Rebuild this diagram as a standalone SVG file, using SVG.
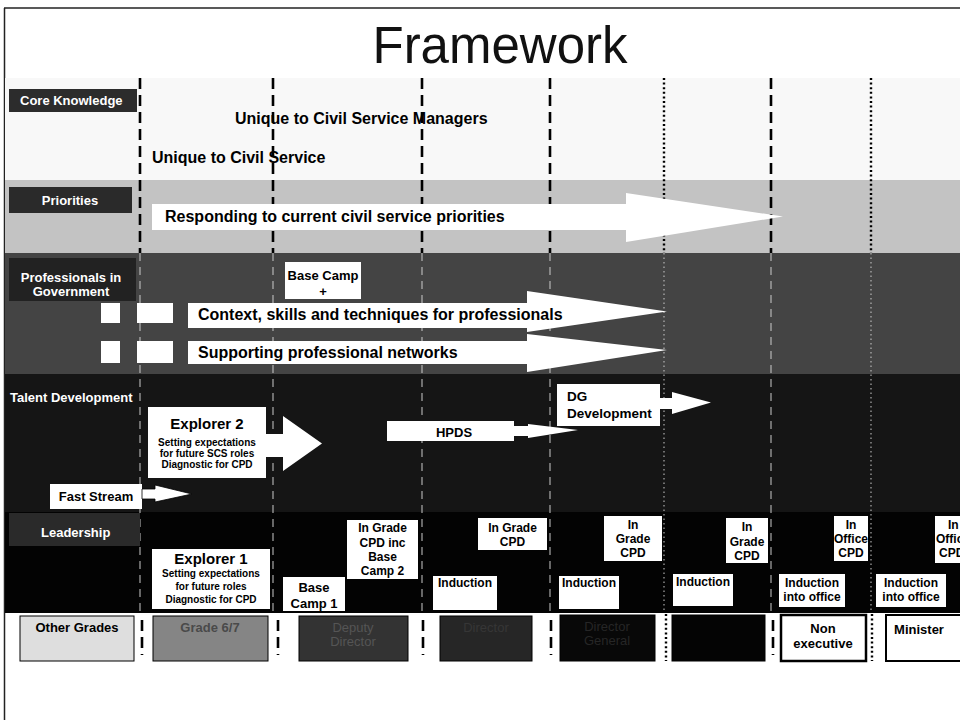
<svg xmlns="http://www.w3.org/2000/svg" width="960" height="724" viewBox="0 0 960 724">
  <style>
    text { font-family: "Liberation Sans", Arial, sans-serif; font-weight: bold; }
    .title { font-weight: normal; font-size: 51px; fill: #111; }
    .lbl { fill: #fff; font-size: 13px; }
    .band-t { fill: #000; font-size: 16px; }
    .bx { fill: #fff; }
    .bt { fill: #000; font-size: 12px; text-anchor: middle; }
    .bt13 { fill: #000; font-size: 13px; text-anchor: middle; }
    .sub { fill: #000; font-size: 10px; text-anchor: middle; }
    .arrow { fill: #fff; }
    .dash-d { stroke: #000; stroke-width: 2.6; stroke-dasharray: 11 6; fill: none; }
    .dot-d { stroke: #000; stroke-width: 2.4; stroke-dasharray: 2 2.6; fill: none; }
    .dash-l { stroke: #cfcfcf; stroke-width: 1.4; stroke-dasharray: 8 6; opacity: 0.7; fill: none; }
    .dot-l { stroke: #cfcfcf; stroke-width: 1.4; stroke-dasharray: 1.5 3; opacity: 0.7; fill: none; }
    .grade { stroke: #000; stroke-width: 1; }
    .gt { font-size: 13px; text-anchor: middle; }
  </style>

  <!-- page -->
  <rect x="0" y="0" width="960" height="724" fill="#fff"/>
  <line x1="4" y1="8" x2="960" y2="8" stroke="#222" stroke-width="1.5"/>
  <line x1="4.5" y1="8" x2="4.5" y2="720" stroke="#222" stroke-width="1.5"/>
  <text class="title" x="500" y="63" text-anchor="middle">Framework</text>

  <!-- horizontal bands -->
  <g id="bands">
    <rect x="5" y="78" width="955" height="102" fill="#f8f8f8"/>
    <rect x="5" y="180" width="955" height="73" fill="#c3c3c3"/>
    <rect x="5" y="253" width="955" height="121" fill="#444"/>
    <rect x="5" y="374" width="955" height="138" fill="#151515"/>
    <rect x="5" y="512" width="955" height="101" fill="#030303"/>
  </g>

  <!-- grid of grade columns -->
  <g id="connectors">
    <g id="grid-light-bands">
      <line class="dash-d" x1="140" y1="78" x2="140" y2="253"/>
      <line class="dash-d" x1="273" y1="78" x2="273" y2="253"/>
      <line class="dash-d" x1="422" y1="78" x2="422" y2="253"/>
      <line class="dash-d" x1="550" y1="78" x2="550" y2="253"/>
      <line class="dot-d" x1="664" y1="78" x2="664" y2="253"/>
      <line class="dash-d" x1="771" y1="78" x2="771" y2="253"/>
      <line class="dot-d" x1="871" y1="78" x2="871" y2="253"/>
    </g>
    <g id="grid-dark-bands">
      <line class="dash-l" x1="140" y1="253" x2="140" y2="612"/>
      <line class="dash-l" x1="273" y1="253" x2="273" y2="612"/>
      <line class="dash-l" x1="422" y1="253" x2="422" y2="612"/>
      <line class="dash-l" x1="550" y1="253" x2="550" y2="612"/>
      <line class="dot-l" x1="664" y1="253" x2="664" y2="612"/>
      <line class="dash-l" x1="771" y1="253" x2="771" y2="612"/>
      <line class="dot-l" x1="871" y1="253" x2="871" y2="612"/>
    </g>
    <g id="grid-grade-row">
      <line class="dash-d" x1="142" y1="620" x2="142" y2="655" stroke-dasharray="11 9"/>
      <line class="dash-d" x1="278" y1="620" x2="278" y2="655" stroke-dasharray="11 9"/>
      <line class="dash-d" x1="423" y1="620" x2="423" y2="655" stroke-dasharray="11 9"/>
      <line class="dash-d" x1="551" y1="620" x2="551" y2="655" stroke-dasharray="11 9"/>
      <line class="dot-d" x1="666" y1="614" x2="666" y2="661"/>
      <line class="dash-d" x1="773" y1="620" x2="773" y2="655" stroke-dasharray="11 9"/>
      <line class="dot-d" x1="872" y1="614" x2="872" y2="661"/>
    </g>
  </g>

  <!-- row labels -->
  <g id="label-core">
    <rect x="9" y="89" width="128" height="23" fill="#2c2c2c"/>
    <text class="lbl" x="20" y="105">Core Knowledge</text>
  </g>
  <g id="label-priorities">
    <rect x="9" y="187" width="123" height="26" fill="#2a2a2a"/>
    <text class="lbl" x="70" y="205" text-anchor="middle">Priorities</text>
  </g>
  <g id="label-professionals">
    <rect x="9" y="258" width="127" height="43" fill="#222"/>
    <text class="lbl" x="71" y="282" text-anchor="middle">Professionals in</text>
    <text class="lbl" x="71" y="296" text-anchor="middle">Government</text>
  </g>
  <g id="label-talent">
    <text class="lbl" x="10" y="402">Talent Development</text>
  </g>
  <g id="label-leadership">
    <rect x="9" y="513" width="131" height="33" fill="#2a2a2a"/>
    <text class="lbl" x="41" y="537">Leadership</text>
  </g>

  <!-- core knowledge -->
  <g id="core-managers">
    <text class="band-t" x="235" y="124">Unique to Civil Service Managers</text>
  </g>
  <g id="core-civil-service">
    <text class="band-t" x="152" y="163">Unique to Civil Service</text>
  </g>

  <!-- priorities -->
  <g id="priorities-arrow">
    <polygon class="arrow" points="152,204 626,204 626,193 783,216.5 626,242 626,230 152,230"/>
    <text class="band-t" x="165" y="222">Responding to current civil service priorities</text>
  </g>

  <!-- professionals in government -->
  <g id="base-camp">
    <rect class="bx" x="285" y="262" width="76" height="37"/>
    <text class="bt13" x="323" y="280">Base Camp</text>
    <text class="bt13" x="323" y="296">+</text>
  </g>
  <g id="prof-squares">
    <rect class="bx" x="101" y="303" width="19" height="20"/>
    <rect class="bx" x="137" y="303" width="36" height="20"/>
    <rect class="bx" x="101" y="341" width="19" height="22"/>
    <rect class="bx" x="137" y="341" width="36" height="22"/>
  </g>
  <g id="prof-context">
    <polygon class="arrow" points="188,303 527,303 527,291 667,311.5 527,332 527,328 188,328"/>
    <text class="band-t" x="198" y="320">Context, skills and techniques for professionals</text>
  </g>
  <g id="prof-networks">
    <polygon class="arrow" points="188,341 527,341 527,334 667,350 527,372 527,364 188,364"/>
    <text class="band-t" x="198" y="358">Supporting professional networks</text>
  </g>

  <!-- talent development -->
  <g id="explorer-2">
    <rect class="bx" x="148" y="407" width="118" height="71"/>
    <text class="bt" x="207" y="429" style="font-size:15px">Explorer 2</text>
    <text class="sub" x="207" y="446">Setting expectations</text>
    <text class="sub" x="207" y="457">for future SCS roles</text>
    <text class="sub" x="207" y="468">Diagnostic for CPD</text>
    <polygon class="arrow" points="266,434 283,434 283,416 322,443.5 283,471 283,457 266,457"/>
  </g>
  <g id="fast-stream">
    <rect class="bx" x="50" y="484" width="92" height="25"/>
    <text class="bt13" x="96" y="501">Fast Stream</text>
    <polygon class="arrow" stroke="#000" stroke-width="0.8" points="142,489 155,489 155,485 192,494 155,502 155,499 142,499"/>
  </g>
  <g id="hpds">
    <rect class="bx" x="387" y="421" width="127" height="20"/>
    <text class="bt13" x="454" y="437">HPDS</text>
    <polygon class="arrow" points="514,426 528,426 528,424 578,430 528,438 528,436 514,436"/>
  </g>
  <g id="dg-development">
    <rect class="bx" x="557" y="384" width="103" height="42"/>
    <text class="bt" x="567" y="401" style="font-size:13.5px;text-anchor:start">DG</text>
    <text class="bt" x="567" y="418" style="font-size:13.5px;text-anchor:start">Development</text>
    <polygon class="arrow" points="660,398 672,398 672,392 711,402.5 672,414 672,409 660,409"/>
  </g>

  <!-- leadership -->
  <g id="explorer-1">
    <rect class="bx" x="152" y="549" width="118" height="60"/>
    <text class="bt" x="211" y="564" style="font-size:15px">Explorer 1</text>
    <text class="sub" x="211" y="577">Setting expectations</text>
    <text class="sub" x="211" y="590">for future roles</text>
    <text class="sub" x="211" y="603">Diagnostic for CPD</text>
  </g>
  <g id="base-camp-1">
    <rect class="bx" x="283" y="577" width="62" height="34"/>
    <text class="bt13" x="314" y="592">Base</text>
    <text class="bt13" x="314" y="608">Camp 1</text>
  </g>
  <g id="in-grade-cpd-base-camp-2">
    <rect class="bx" x="347" y="520" width="71" height="59"/>
    <text class="bt" x="382.5" y="532">In Grade</text>
    <text class="bt" x="382.5" y="547">CPD inc</text>
    <text class="bt" x="382.5" y="561">Base</text>
    <text class="bt" x="382.5" y="575">Camp 2</text>
  </g>
  <g id="induction-1">
    <rect class="bx" x="433" y="576" width="64" height="34"/>
    <text class="bt" x="465" y="587">Induction</text>
  </g>
  <g id="in-grade-cpd-1">
    <rect class="bx" x="478" y="518" width="69" height="32"/>
    <text class="bt" x="512.5" y="532">In Grade</text>
    <text class="bt" x="512.5" y="546">CPD</text>
  </g>
  <g id="induction-2">
    <rect class="bx" x="559" y="576" width="60" height="33"/>
    <text class="bt" x="589" y="587">Induction</text>
  </g>
  <g id="in-grade-cpd-2">
    <rect class="bx" x="604" y="516" width="58" height="45"/>
    <text class="bt" x="633" y="529">In</text>
    <text class="bt" x="633" y="543">Grade</text>
    <text class="bt" x="633" y="557">CPD</text>
  </g>
  <g id="induction-3">
    <rect class="bx" x="673" y="574" width="60" height="32"/>
    <text class="bt" x="703" y="586">Induction</text>
  </g>
  <g id="in-grade-cpd-3">
    <rect class="bx" x="726" y="518" width="42" height="45"/>
    <text class="bt" x="747" y="531">In</text>
    <text class="bt" x="747" y="546">Grade</text>
    <text class="bt" x="747" y="560">CPD</text>
  </g>
  <g id="in-office-cpd-1">
    <rect class="bx" x="834" y="516" width="34" height="45"/>
    <text class="bt" x="851" y="529">In</text>
    <text class="bt" x="851" y="543">Office</text>
    <text class="bt" x="851" y="557">CPD</text>
  </g>
  <g id="induction-office-1">
    <rect class="bx" x="779" y="574" width="66" height="33"/>
    <text class="bt" x="812" y="587">Induction</text>
    <text class="bt" x="812" y="601">into office</text>
  </g>
  <g id="in-office-cpd-2">
    <rect class="bx" x="935" y="516" width="30" height="47"/>
    <text class="bt" x="950" y="529" style="text-anchor:start" dx="-2">In</text>
    <text class="bt" x="936" y="543" style="text-anchor:start">Office</text>
    <text class="bt" x="939" y="557" style="text-anchor:start">CPD</text>
  </g>
  <g id="induction-office-2">
    <rect class="bx" x="876" y="574" width="70" height="33"/>
    <text class="bt" x="911" y="587">Induction</text>
    <text class="bt" x="911" y="601">into office</text>
  </g>

  <!-- grades row -->
  <g id="grade-other">
    <rect class="grade" x="20" y="616" width="114" height="45" fill="#dedede"/>
    <text class="gt" x="77" y="632" fill="#000">Other Grades</text>
  </g>
  <g id="grade-6-7">
    <rect class="grade" x="153" y="616" width="115" height="45" fill="#858585"/>
    <text class="gt" x="210" y="632" fill="#4a4a4a">Grade 6/7</text>
  </g>
  <g id="grade-deputy-director">
    <rect class="grade" x="299" y="616" width="109" height="45" fill="#333"/>
    <text class="gt" x="353" y="632" fill="#555" style="font-weight:normal">Deputy</text>
    <text class="gt" x="353" y="646" fill="#555" style="font-weight:normal">Director</text>
  </g>
  <g id="grade-director">
    <rect class="grade" x="440" y="616" width="92" height="45" fill="#262626"/>
    <text class="gt" x="486" y="632" fill="#363636" style="font-weight:normal">Director</text>
  </g>
  <g id="grade-director-general">
    <rect class="grade" x="560" y="615" width="95" height="46" fill="#080808"/>
    <text class="gt" x="607" y="631" fill="#262626" style="font-weight:normal">Director</text>
    <text class="gt" x="607" y="645" fill="#262626" style="font-weight:normal">General</text>
  </g>
  <g id="grade-permanent">
    <rect class="grade" x="672" y="615" width="93" height="46" fill="#040404"/>
  </g>
  <g id="grade-non-executive">
    <rect x="781" y="615" width="85" height="46" fill="#fff" stroke="#000" stroke-width="2.5"/>
    <text class="gt" x="823" y="633" fill="#000">Non</text>
    <text class="gt" x="823" y="648" fill="#000">executive</text>
  </g>
  <g id="grade-minister">
    <rect x="886" y="615" width="80" height="46" fill="#fff" stroke="#000" stroke-width="2"/>
    <text class="gt" x="919" y="634" fill="#000">Minister</text>
  </g>
</svg>
